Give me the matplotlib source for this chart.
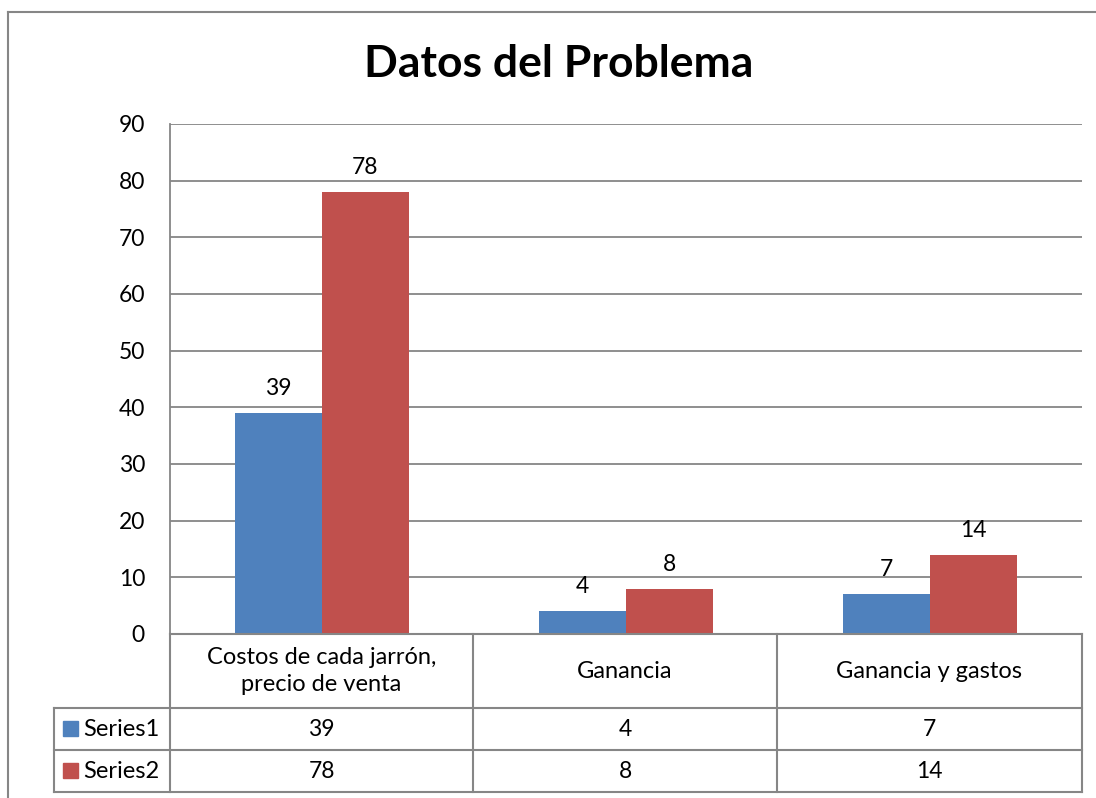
import matplotlib.pyplot as plt
import numpy as np
from matplotlib.lines import Line2D
from matplotlib.patches import Rectangle

plt.rcParams["font.family"] = ["Lato", "DejaVu Sans"]

categories = ["Costos de cada jarrón,\nprecio de venta", "Ganancia", "Ganancia y gastos"]
series_names = ["Series1", "Series2"]
series1 = [39, 4, 7]
series2 = [78, 8, 14]
y_ticks = [0, 10, 20, 30, 40, 50, 60, 70, 80, 90]

colors = ["#4F81BD", "#C0504D"]
grid_color = "#868686"

W, H = 1096, 798
fig = plt.figure(figsize=(W / 100, H / 100), dpi=100)


def fx(px):
    return px / W


def fy(py):
    return 1 - py / H


# outer chart frame (cut off at right and bottom)
fig.add_artist(Line2D([fx(8), fx(8)], [fy(12), 0], color=grid_color, lw=1.5))
fig.add_artist(Line2D([fx(8), 1], [fy(12), fy(12)], color=grid_color, lw=1.5))

fig.text(fx(559), fy(64), "Datos del Problema", ha="center", va="center",
         fontsize=32, fontweight="bold")

# plot area
left, right, top, bottom = 170, 1082, 124, 634
ax = fig.add_axes([fx(left), fy(bottom), fx(right - left), (bottom - top) / H])
x = np.arange(len(categories))
bw = 0.286
values = [series1, series2]
for i, vals in enumerate(values):
    offs = (i - 0.5) * bw
    bars = ax.bar(x + offs, vals, width=bw, color=colors[i], zorder=3)
    for b, v in zip(bars, vals):
        ax.annotate(str(v), (b.get_x() + b.get_width() / 2, v),
                    xytext=(0, 10), textcoords="offset points",
                    ha="center", va="bottom", fontsize=16.5)

ax.set_xlim(-0.5, len(categories) - 0.5)
ax.set_ylim(0, 90)
ax.set_yticks(y_ticks)
ax.tick_params(axis="y", length=0, pad=18, labelsize=16.5)
ax.set_xticks([])
ax.grid(axis="y", color=grid_color, lw=1.3, zorder=0)
for s in ["top", "right", "bottom"]:
    ax.spines[s].set_visible(False)
ax.spines["left"].set_color(grid_color)
ax.spines["left"].set_linewidth(1.3)

# data table
row_y = [634, 708, 750, 792]
col_x = [170, 473, 777, 1082]
lab_x = 54
lkw = dict(color=grid_color, lw=1.5)
for cx in col_x:
    fig.add_artist(Line2D([fx(cx)] * 2, [fy(634), fy(792)], **lkw))
fig.add_artist(Line2D([fx(lab_x)] * 2, [fy(708), fy(792)], **lkw))
fig.add_artist(Line2D([fx(170), fx(1082)], [fy(634)] * 2, **lkw))
for ry in row_y[1:]:
    fig.add_artist(Line2D([fx(lab_x), fx(1082)], [fy(ry)] * 2, **lkw))

for j, cat in enumerate(categories):
    cx = (col_x[j] + col_x[j + 1]) / 2
    fig.text(fx(cx), fy((row_y[0] + row_y[1]) / 2), cat, ha="center", va="center",
             fontsize=17, linespacing=1.4)
    for i, vals in enumerate(values):
        cy = (row_y[i + 1] + row_y[i + 2]) / 2
        fig.text(fx(cx), fy(cy), str(vals[j]), ha="center", va="center", fontsize=16.5)

for i, name in enumerate(series_names):
    cy = (row_y[i + 1] + row_y[i + 2]) / 2
    fig.add_artist(Rectangle((fx(63), fy(cy + 7)), fx(15), 15 / H, color=colors[i]))
    fig.text(fx(83), fy(cy), name, ha="left", va="center", fontsize=17)

fig.savefig("out.png", dpi=100)
